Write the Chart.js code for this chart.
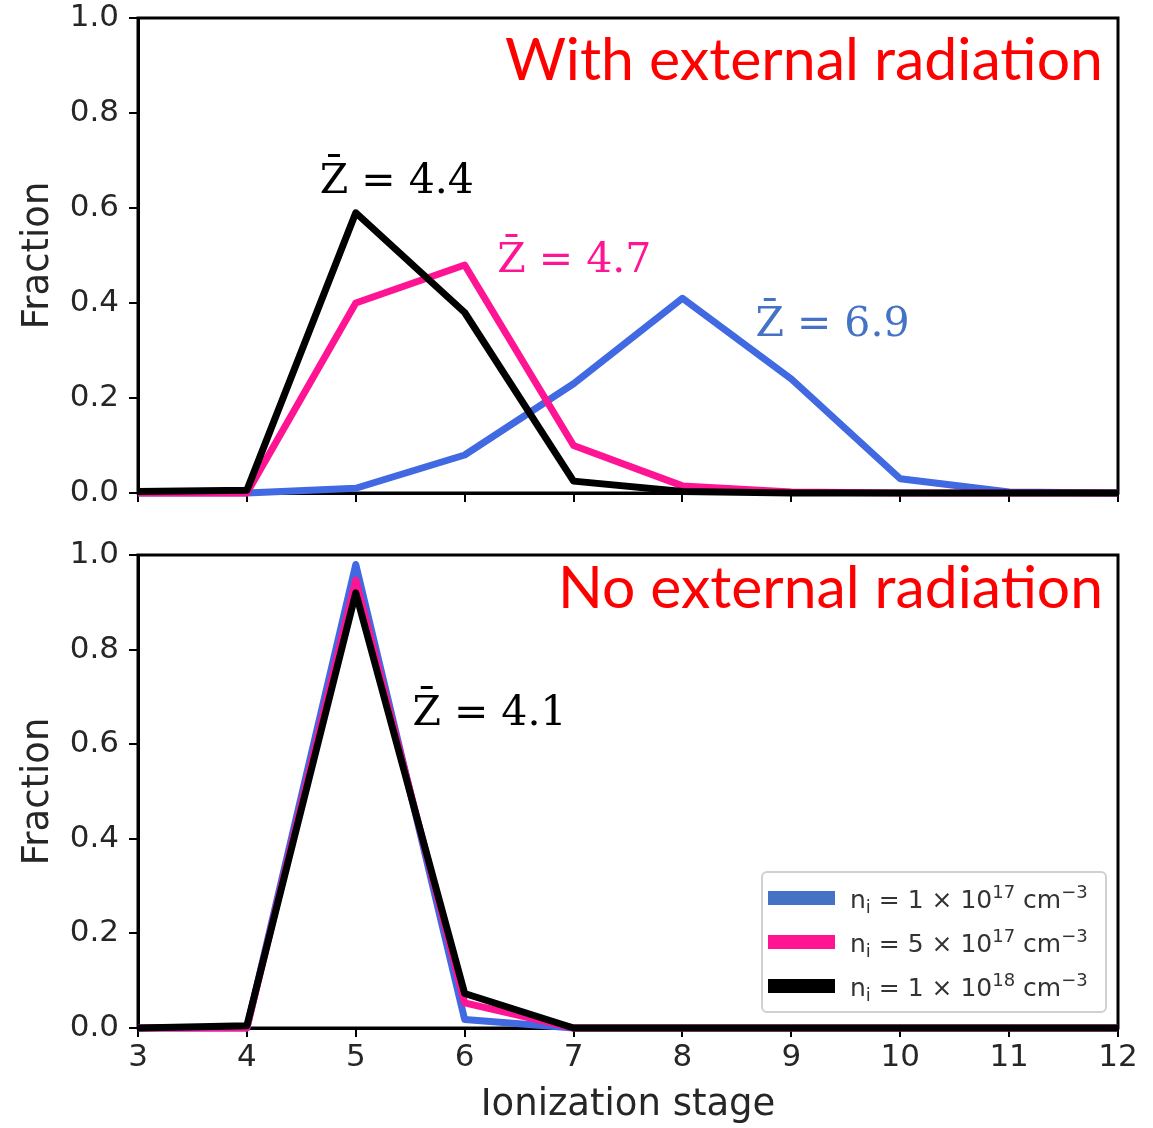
<!DOCTYPE html>
<html>
<head>
<meta charset="utf-8">
<script src="https://cdn.jsdelivr.net/npm/chart.js@4.4.1/dist/chart.umd.min.js"></script>
<style>
  html, body { margin: 0; padding: 0; background: #fff; }
  #page { position: relative; width: 1153px; height: 1128px; }
  .panel { position: absolute; left: 0; width: 1153px; }
</style>
</head>
<body>
<div id="page">
  <div class="panel" style="top:0;height:540px"><canvas id="top-chart"></canvas></div>
  <div class="panel" style="top:540px;height:588px"><canvas id="bottom-chart"></canvas></div>
</div>
<script>
// ── Data ──
const stages = [3, 4, 5, 6, 7, 8, 9, 10, 11, 12];
const xTicks = [3, 4, 5, 6, 7, 8, 9, 10, 11, 12];
const yTicks = [0.0, 0.2, 0.4, 0.6, 0.8, 1.0];

// with external radiation
const withRad_1e17 = [0, 0, 0.01, 0.08, 0.23, 0.41, 0.24, 0.03, 0.002, 0];
const withRad_5e17 = [0, 0, 0.40, 0.48, 0.10, 0.015, 0.002, 0, 0, 0];
const withRad_1e18 = [0.003, 0.006, 0.59, 0.38, 0.025, 0.003, 0, 0, 0, 0];

// no external radiation
const noRad_1e17 = [0, 0, 0.98, 0.018, 0, 0, 0, 0, 0, 0];
const noRad_5e17 = [0, 0, 0.947, 0.053, 0, 0, 0, 0, 0, 0];
const noRad_1e18 = [0, 0.005, 0.92, 0.073, 0, 0, 0, 0, 0, 0];

// legend labels, mathtext-ish: _{..} subscript, ^{..} superscript
const seriesLabels = ['n_{i} = 1 × 10^{17} cm^{−3}', 'n_{i} = 5 × 10^{17} cm^{−3}', 'n_{i} = 1 × 10^{18} cm^{−3}'];
const seriesColors = ['#4169e1', '#ff1493', '#000000'];
const legendColors = ['#4472c4', '#ff1493', '#000000'];

// mean charge labels: [text, x (stage), y (fraction), colour]
const topNotes = [
  ['Z\u0304 = 4.4', 4.67, 0.655, '#000000'],
  ['Z\u0304 = 4.7', 6.30, 0.487, '#ff1493'],
  ['Z\u0304 = 6.9', 8.67, 0.352, '#4472c4'],
];
const bottomNotes = [
  ['Z\u0304 = 4.1', 5.52, 0.664, '#000000'],
];

const pts = arr => arr.map((v, i) => ({ x: stages[i], y: v }));

function makeDatasets(a, b, c) {
  return [a, b, c].map((arr, i) => ({
    label: seriesLabels[i].replace(/[_^]\{|\}/g, ''),
    data: pts(arr),
    borderColor: seriesColors[i],
    borderWidth: 7,
    borderJoinStyle: 'round',
    pointRadius: 0,
    tension: 0,
    fill: false,
    clip: 6,
    order: 3 - i,   // black on top
  }));
}

// draw "n_{i} = ... ^{17}" with raised / lowered small parts
function drawMathText(ctx, str, x, y, size) {
  const parts = str.split(/([_^]\{[^}]*\})/).filter(s => s);
  parts.forEach(p => {
    let dy = 0, fs = size;
    if (p[0] === '^') { p = p.slice(2, -1); fs = size * 0.72; dy = -size * 0.4; }
    else if (p[0] === '_') { p = p.slice(2, -1); fs = size * 0.72; dy = size * 0.2; }
    ctx.font = fs + 'px "DejaVu Sans"';
    ctx.fillText(p, x, y + dy);
    x += ctx.measureText(p).width;
  });
}

// ── Frame, notes, panel title, legend ──
const figPlugin = {
  id: 'fig',
  beforeDatasetsDraw(chart) {
    const { ctx, chartArea: a } = chart;
    ctx.save();
    ctx.strokeStyle = '#000';
    ctx.lineWidth = 3;
    ctx.strokeRect(a.left, a.top, a.right - a.left, a.bottom - a.top);
    ctx.restore();
  },
  afterDatasetsDraw(chart) {
    const o = chart.options.plugins.fig;
    const { ctx, chartArea: a, scales } = chart;
    ctx.save();
    // Z-bar notes
    ctx.font = '41px "DejaVu Serif"';
    ctx.textBaseline = 'middle';
    ctx.textAlign = 'left';
    o.notes.forEach(([t, x, y, col]) => {
      ctx.fillStyle = col;
      ctx.fillText(t, scales.x.getPixelForValue(x), scales.y.getPixelForValue(y));
    });
    // red panel title, squeezed to the width it has in the figure
    ctx.font = '58px Lato';
    ctx.fillStyle = '#ff0000';
    ctx.textBaseline = 'alphabetic';
    const w = ctx.measureText(o.title).width;
    const sx = o.titleWidth / w;
    ctx.translate(a.right - 15, a.top + o.titleDrop);
    ctx.scale(sx, 1);
    ctx.textAlign = 'right';
    ctx.fillText(o.title, 0, 0);
    ctx.restore();

    if (o.legend) {
      ctx.save();
      const bx = a.right - 356, by = a.bottom - 156, bw = 344, bh = 140;
      ctx.fillStyle = 'rgba(255,255,255,0.85)';
      ctx.strokeStyle = '#d0d0d0';
      ctx.lineWidth = 2;
      ctx.beginPath();
      ctx.roundRect(bx, by, bw, bh, 5);
      ctx.fill();
      ctx.stroke();
      ctx.textBaseline = 'alphabetic';
      ctx.textAlign = 'left';
      seriesLabels.forEach((lab, i) => {
        const cy = by + 26 + i * 44;
        ctx.fillStyle = legendColors[i];
        ctx.fillRect(bx + 6, cy - 7, 67, 14);
        ctx.fillStyle = '#333';
        drawMathText(ctx, lab, bx + 88, cy + 10, 25);
      });
      ctx.restore();
    }
  }
};

function makeOptions(cfg) {
  const tickFont = { family: 'DejaVu Sans', size: 31, lineHeight: 1 };
  const titleFont = { family: 'DejaVu Sans', size: 37, lineHeight: 1 };
  return {
    responsive: true,
    maintainAspectRatio: false,
    animation: false,
    layout: { padding: { top: cfg.padTop, right: 35, left: 0, bottom: 0 } },
    plugins: {
      legend: { display: false },
      tooltip: { enabled: false },
      fig: cfg.fig,
    },
    scales: {
      x: {
        type: 'linear',
        min: 3, max: 12,
        afterBuildTicks: s => { s.ticks = xTicks.map(v => ({ value: v })); },
        afterFit: s => { s.height = cfg.xHeight; s.paddingLeft = 0; s.paddingRight = 0; },
        grid: { display: true, drawOnChartArea: false, drawTicks: true, tickLength: 9, color: '#000', lineWidth: 2 },
        border: { display: true, color: '#000', width: 3 },
        ticks: {
          display: cfg.xLabels,
          padding: 5,
          color: '#262626',
          font: tickFont,
          maxRotation: 0,
        },
        title: {
          display: cfg.xLabels,
          text: 'Ionization stage',
          color: '#262626',
          font: titleFont,
          padding: { top: 0, bottom: 4 },
        },
      },
      y: {
        min: 0, max: 1,
        afterBuildTicks: s => { s.ticks = yTicks.map(v => ({ value: v })); },
        afterFit: s => { s.width = 138; s.paddingTop = 0; s.paddingBottom = 0; },
        grid: { display: true, drawOnChartArea: false, drawTicks: true, tickLength: 9, color: '#000', lineWidth: 2 },
        border: { display: true, color: '#000', width: 3 },
        ticks: {
          padding: 10,
          color: '#262626',
          font: tickFont,
          callback: v => v.toFixed(1),
        },
        title: {
          display: true,
          text: 'Fraction',
          color: '#262626',
          font: titleFont,
          padding: { top: 20, bottom: 0 },
        },
      },
    },
  };
}

new Chart(document.getElementById('top-chart'), {
  type: 'line',
  data: { datasets: makeDatasets(withRad_1e17, withRad_5e17, withRad_1e18) },
  options: makeOptions({
    padTop: 18, xHeight: 47, xLabels: false,
    fig: { notes: topNotes, title: 'With external radiation', titleWidth: 598, titleDrop: 62, legend: false },
  }),
  plugins: [figPlugin],
});

new Chart(document.getElementById('bottom-chart'), {
  type: 'line',
  data: { datasets: makeDatasets(noRad_1e17, noRad_5e17, noRad_1e18) },
  options: makeOptions({
    padTop: 15, xHeight: 100, xLabels: true,
    fig: { notes: bottomNotes, title: 'No external radiation', titleWidth: 545, titleDrop: 53, legend: true },
  }),
  plugins: [figPlugin],
});
</script>
</body>
</html>
